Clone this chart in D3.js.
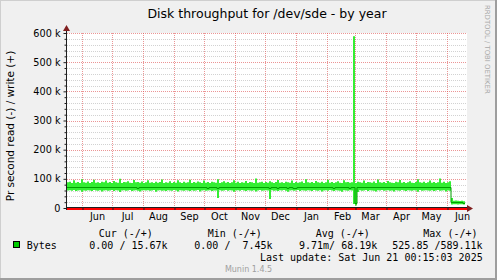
<!DOCTYPE html>
<html><head><meta charset="utf-8">
<script src="https://cdn.jsdelivr.net/npm/d3@7"></script>
<style>html,body{margin:0;padding:0;background:#F0F0F0;} svg{display:block;} text{white-space:pre;}</style>
</head><body>
<svg id="c" width="497" height="280"></svg>
<script>
// ---- data (values in k, one value per 2-day bin starting 2024-05-17) ----
const hiK = [
88,90,86,95,87,89,86,99,88,87,91,86,89,97,87,88,86,90,88,94,
87,89,86,93,88,87,100,86,89,88,92,87,86,96,88,89,87,91,86,88,
95,87,88,86,90,87,89,98,86,88,87,92,86,89,87,95,88,86,90,87,
88,97,86,89,87,91,88,86,94,87,89,86,90,88,87,99,86,88,92,87,
89,86,88,95,87,90,86,88,87,93,86,89,88,86,101,87,88,90,86,89,
87,92,88,86,89,96,87,88,86,90,88,87,94,86,89,87,88,91,86,99,
88,87,89,86,93,88,87,90,86,88,97,87,89,86,88,92,87,86,95,88,
89,87,88,589,86,90,88,87,94,86,89,88,87,91,86,98,88,87,89,86,
93,88,87,86,90,88,96,87,89,86,88,92,87,86,89,99,88,87,90,86,
88,94,87,89,86,88,101,87,90,86,88,92,34,25,26,25,24,25,23];
const avgK = [
72,72,73,72,72,71,72,72,72,73,72,72,72,71,72,72,72,73,72,72,
72,72,71,72,72,72,73,72,72,72,72,71,72,72,72,68,72,73,72,72,
72,71,72,72,72,72,73,72,72,72,72,72,71,72,72,72,72,72,73,72,
72,72,72,72,72,72,72,72,72,72,68,72,72,72,72,68,72,72,72,72,
72,72,73,72,72,72,72,72,71,72,72,72,72,72,72,72,73,72,72,72,
72,68,72,72,72,68,72,72,72,72,68,72,72,68,68,72,72,72,72,72,
72,72,72,73,72,72,72,72,71,72,72,72,72,68,73,72,72,72,72,72,
72,68,72,72,18,72,72,72,72,73,72,72,72,72,72,72,71,72,72,72,
72,72,73,72,72,72,72,72,72,71,72,72,72,72,73,72,72,72,72,72,
72,72,72,71,72,72,72,72,72,72,72,72,20,20,21,20,20,19,16];
const loK = [
60,61,59,62,58,60,61,56,60,59,61,60,58,62,60,59,61,57,60,61,
59,60,62,58,61,60,55,60,61,59,60,62,58,60,61,59,57,60,61,60,
61,59,60,62,56,60,61,59,60,58,61,60,59,62,60,57,61,60,59,61,
60,58,61,59,60,62,57,60,61,59,60,61,58,60,60,34,61,59,60,62,
59,61,60,56,60,61,59,62,60,58,61,60,59,61,57,60,62,59,60,61,
60,31,61,59,60,58,61,60,62,59,56,60,61,59,60,62,58,61,60,59,
61,60,58,62,60,59,61,57,60,61,59,62,60,58,61,60,59,56,61,60,
59,61,60,14,9,55,61,59,60,62,58,61,60,59,57,61,60,62,59,60,
61,59,60,57,61,60,59,62,60,58,61,60,59,61,60,56,62,59,60,61,
60,59,61,58,60,62,59,60,61,57,60,59,12,13,13,12,13,13,12];
const monthLabels = ["Jun","Jul","Aug","Sep","Oct","Nov","Dec","Jan","Feb","Mar","Apr","May","Jun"];
const yTicks = [0,100000,200000,300000,400000,500000,600000];
const yTickLabels = ["0","100 k","200 k","300 k","400 k","500 k","600 k"];
const legendHeaders = ["Cur (-/+)","Min (-/+)","Avg (-/+)","Max (-/+)"];
const legendValues = ["0.00 / 15.67k","0.00 /  7.45k","9.71m/ 68.19k","525.85 /589.11k"];
const seriesName = "Bytes";
const titleText = "Disk throughput for /dev/sde - by year";
const yTitleText = "Pr second read (-) / write (+)";
const lastUpdateText = "Last update: Sat Jun 21 00:15:03 2025";
const footerText = "Munin 1.4.5";
const watermarkText = "RRDTOOL / TOBI OETIKER";

// ---- drawing ----
const W = 497, H = 280;
const svg = d3.select("#c");
const sans = "'DejaVu Sans', sans-serif", mono = "'DejaVu Sans Mono', monospace";
const start = new Date(2024,4,17,0,15), end = new Date(2025,5,21,0,15);
const x = d3.scaleTime().domain([start,end]).range([67,467]);
const y = d3.scaleLinear().domain([0,600000]).range([208,33]);

// frame
svg.append("rect").attr("width",W).attr("height",H).attr("fill","#F0F0F0");
svg.append("rect").attr("x",0).attr("y",0).attr("width",W).attr("height",1).attr("fill","#CFCFCF");
svg.append("rect").attr("x",0).attr("y",0).attr("width",1).attr("height",H).attr("fill","#CFCFCF");
svg.append("rect").attr("x",W-2).attr("y",0).attr("width",2).attr("height",H).attr("fill","#9E9E9E");
svg.append("rect").attr("x",0).attr("y",H-2).attr("width",W).attr("height",2).attr("fill","#9E9E9E");

// canvas
svg.append("rect").attr("x",67).attr("y",33).attr("width",400).attr("height",175).attr("fill","#FFFFFF");

// grid
const minor = d3.range(20000,600001,20000).filter(v=>v%100000!==0);
svg.append("g").selectAll("line").data(minor).join("line")
  .attr("x1",67).attr("x2",467).attr("y1",d=>Math.round(y(d))+0.5).attr("y2",d=>Math.round(y(d))+0.5)
  .attr("stroke","rgba(143,143,143,0.4)").attr("stroke-dasharray","1,1");
const months = d3.timeMonth.range(new Date(2024,5,1), new Date(2025,5,2));
svg.append("g").selectAll("line").data(yTicks.slice(1)).join("line")
  .attr("x1",67).attr("x2",467).attr("y1",d=>Math.round(y(d))+0.5).attr("y2",d=>Math.round(y(d))+0.5)
  .attr("stroke","rgba(222,79,79,0.6)").attr("stroke-dasharray","1,1");
svg.append("g").selectAll("line").data(months).join("line")
  .attr("x1",d=>Math.round(x(d))+0.5).attr("x2",d=>Math.round(x(d))+0.5).attr("y1",33).attr("y2",208)
  .attr("stroke","rgba(222,79,79,0.6)").attr("stroke-dasharray","1,1");

// series
const bins = hiK.map((h,i)=>({date:d3.timeDay.offset(start,2*i),hi:h*1000,avg:avgK[i]*1000,lo:loK[i]*1000}));
const last = bins[bins.length-1];
bins.push({date:d3.timeDay.offset(start,2*hiK.length),hi:last.hi,avg:last.avg,lo:last.lo});
const area = d3.area().x(d=>x(d.date)).y0(d=>y(d.lo)).y1(d=>y(d.hi)).curve(d3.curveStepAfter);
svg.append("path").datum(bins).attr("d",area).attr("fill","#33EE33");
const line = d3.line().x(d=>x(d.date)).y(d=>Math.round(y(d.avg))+0.5).curve(d3.curveStepAfter);
svg.append("path").datum(bins).attr("d",line).attr("fill","none").attr("stroke","#00A000").attr("stroke-width",1);

// zero lines
svg.append("line").attr("x1",67).attr("x2",467).attr("y1",209).attr("y2",209).attr("stroke","#FF0000").attr("stroke-width",2);
svg.append("line").attr("x1",67).attr("x2",467).attr("y1",207.5).attr("y2",207.5).attr("stroke","#1F1F1F").attr("stroke-width",1);

// y axis
const yAxis = d3.axisLeft(y).tickValues(yTicks).tickFormat((d,i)=>yTickLabels[i]).tickSize(3).tickPadding(3);
const gy = svg.append("g").attr("transform","translate(66.5,0)").call(yAxis);
gy.select(".domain").remove();
gy.selectAll(".tick line").attr("stroke","#1F1F1F");
gy.selectAll("text").attr("font-family",sans).attr("font-size","9.7px").attr("fill","#000");
const yMinorAxis = d3.axisLeft(y).tickValues(minor).tickFormat("").tickSize(2);
const gy2 = svg.append("g").attr("transform","translate(66.5,0)").call(yMinorAxis);
gy2.select(".domain").remove();
gy2.selectAll(".tick line").attr("stroke","#1F1F1F");
svg.append("line").attr("x1",66.5).attr("x2",66.5).attr("y1",210).attr("y2",30).attr("stroke","#1F1F1F");
svg.append("path").attr("d","M63,31L70,31L66.5,25Z").attr("fill","#801F1F");

// x axis
const labelDates = months.map(m=>d3.timeDay.offset(m,15));
const xAxis = d3.axisBottom(x).tickValues(labelDates).tickFormat((d,i)=>monthLabels[i]).tickSize(0).tickPadding(5);
const gx = svg.append("g").attr("transform","translate(0,208)").call(xAxis);
gx.select(".domain").remove();
gx.selectAll("text").attr("font-family",sans).attr("font-size","9.7px").attr("fill","#000");
const xTickAxis = d3.axisBottom(x).tickValues(months).tickFormat("").tickSize(2);
const gx2 = svg.append("g").attr("transform","translate(0.5,208)").call(xTickAxis);
gx2.select(".domain").remove();
gx2.selectAll(".tick line").attr("stroke","#1F1F1F");
svg.append("path").attr("d","M467,205L467,212L473,208.5Z").attr("fill","#801F1F");

// texts
svg.append("text").attr("x",267).attr("y",18).attr("text-anchor","middle")
  .attr("font-family",sans).attr("font-size","12.5px").text(titleText);
svg.append("text").attr("transform","translate(14,126) rotate(-90)").attr("text-anchor","middle")
  .attr("font-family",sans).attr("font-size","10.5px").text(yTitleText);
svg.append("text").attr("transform","translate(485,5) rotate(90)").attr("text-anchor","start")
  .attr("font-family",sans).attr("font-size","6.9px").attr("fill","#A8A8A8").text(watermarkText);

// legend
const hdrX = [98.7,207.7,315.7,423.3], valX = [89.3,194.3,299,392.3];
svg.append("g").selectAll("text").data(legendHeaders).join("text")
  .attr("x",(d,i)=>hdrX[i]).attr("y",237).attr("font-family",mono).attr("font-size","10px").text(d=>d);
svg.append("g").selectAll("text").data(legendValues).join("text")
  .attr("x",(d,i)=>valX[i]).attr("y",249).attr("font-family",mono).attr("font-size","10px").text(d=>d);
svg.append("rect").attr("x",13.5).attr("y",241.5).attr("width",6).attr("height",6).attr("fill","#00CC00").attr("stroke","#000");
svg.append("text").attr("x",26.7).attr("y",249).attr("font-family",mono).attr("font-size","10px").text(seriesName);
svg.append("text").attr("x",482.7).attr("y",260.7).attr("text-anchor","end").attr("font-family",mono).attr("font-size","10px").text(lastUpdateText);
svg.append("text").attr("x",248.5).attr("y",271.5).attr("text-anchor","middle").attr("font-family",sans).attr("font-size","8px").attr("fill","#A0A0A0").text(footerText);
</script>
</body></html>
